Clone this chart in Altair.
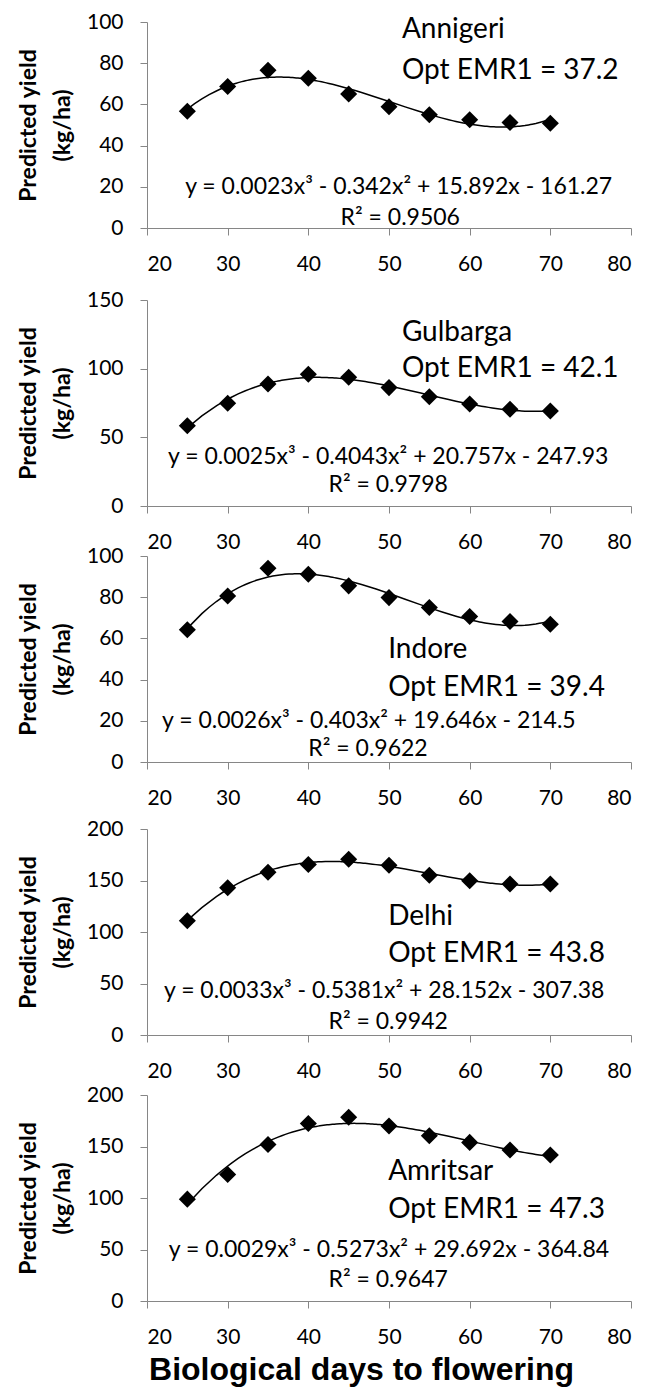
import altair as alt
import pandas as pd

# ---------------- data ----------------
days = [25, 30, 35, 40, 45, 50, 55, 60, 65, 70]

stations = ["Annigeri", "Gulbarga", "Indore", "Delhi", "Amritsar"]
opt_labels = ["Opt EMR1 = 37.2", "Opt EMR1 = 42.1", "Opt EMR1 = 39.4",
              "Opt EMR1 = 43.8", "Opt EMR1 = 47.3"]
equations = [
    "y = 0.0023x\u00b3 - 0.342x\u00b2 + 15.892x - 161.27",
    "y = 0.0025x\u00b3 - 0.4043x\u00b2 + 20.757x - 247.93",
    "y = 0.0026x\u00b3 - 0.403x\u00b2 + 19.646x - 214.5",
    "y = 0.0033x\u00b3 - 0.5381x\u00b2 + 28.152x - 307.38",
    "y = 0.0029x\u00b3 - 0.5273x\u00b2 + 29.692x - 364.84",
]
r2_labels = ["R\u00b2 = 0.9506", "R\u00b2 = 0.9798", "R\u00b2 = 0.9622",
             "R\u00b2 = 0.9942", "R\u00b2 = 0.9647"]

annigeri = [56.7, 68.7, 76.6, 72.7, 65.0, 58.9, 55.0, 52.6, 51.2, 50.9]
gulbarga = [58.5, 74.8, 88.8, 95.9, 93.7, 86.2, 79.6, 74.3, 70.4, 69.2]
indore = [64.2, 80.6, 94.0, 91.1, 85.5, 79.8, 75.0, 70.6, 68.2, 66.9]
delhi = [111.0, 142.9, 158.0, 165.5, 170.6, 164.8, 155.0, 149.7, 146.5, 146.5]
amritsar = [98.9, 122.9, 152.0, 172.4, 178.3, 169.9, 160.4, 154.0, 146.5, 141.7]
series = [annigeri, gulbarga, indore, delhi, amritsar]

x_ticks = [20, 30, 40, 50, 60, 70, 80]
y_ticks = [
    [0, 20, 40, 60, 80, 100],
    [0, 50, 100, 150],
    [0, 20, 40, 60, 80, 100],
    [0, 50, 100, 150, 200],
    [0, 50, 100, 150, 200],
]

# ---------------- annotation placement (data coordinates) ----------------
name_pos = [(51.6, 96.3), (51.6, 125.7), (49.9, 54.5), (49.9, 114.8), (49.9, 125.4)]
opt_pos = [(51.6, 76.0), (51.6, 99.5), (49.9, 36.0), (49.9, 78.4), (49.9, 88.8)]
eq_pos = [(51.2, 20.1), (49.9, 36.0), (47.5, 19.8), (49.4, 43.2), (50.0, 49.9)]
r2_pos = [(51.4, 4.8), (49.9, 15.0), (47.4, 6.5), (49.9, 12.6), (49.9, 20.1)]

# ---------------- layout / style ----------------
FONT = "Lato"
PLOT_W = 484
PLOT_H = 206
TOP_GAP = [0, 22, 0, 17, 10]   # empty band above each plot area
SPACING = 50


def make_panel(i, last):
    df = pd.DataFrame({"x": days, "y": series[i]})
    ymax = y_ticks[i][-1]
    gap = TOP_GAP[i]

    x_axis_kwargs = dict(values=x_ticks, labelPadding=18, tickSize=7)
    if last:
        x_axis_kwargs.update(
            title="Biological days to flowering",
            titleFont="Liberation Sans", titleFontSize=32, titleFontWeight="bold",
            titleColor="black", titleBaseline="alphabetic", titleX=214, titleY=78,
        )
    else:
        x_axis_kwargs.update(title=None)

    xenc = alt.X("x:Q", scale=alt.Scale(domain=[20, 80], nice=False, zero=False),
                 axis=alt.Axis(**x_axis_kwargs))
    yenc = alt.Y("y:Q",
                 scale=alt.Scale(domain=[0, ymax], nice=False,
                                 range=[PLOT_H + gap, gap]),
                 axis=alt.Axis(values=y_ticks[i], title=["Predicted yield", "(kg/ha)"],
                               titleFont=FONT, titleFontSize=23, titleFontWeight="bold",
                               titleLineHeight=34, titleColor="black", titlePadding=12,
                               labelPadding=17, tickSize=7))

    base = alt.Chart(df)
    trend = base.transform_regression(
        "x", "y", method="poly", order=3, extent=[25, 70]
    ).mark_line(color="black", strokeWidth=1.5).encode(x=xenc, y=yenc)
    points = base.mark_point(shape="diamond", filled=True, size=290,
                             color="black", opacity=1).encode(x=xenc, y=yenc)

    names = pd.DataFrame({
        "x": [name_pos[i][0], opt_pos[i][0]],
        "y": [name_pos[i][1], opt_pos[i][1]],
        "t": [stations[i], opt_labels[i]],
    })
    eqs = pd.DataFrame({
        "x": [eq_pos[i][0], r2_pos[i][0]],
        "y": [eq_pos[i][1], r2_pos[i][1]],
        "t": [equations[i], r2_labels[i]],
    })
    name_text = alt.Chart(names).mark_text(
        align="left", baseline="middle", font=FONT, fontSize=28, color="black"
    ).encode(x=xenc, y=yenc, text="t:N")
    eq_text = alt.Chart(eqs).mark_text(
        align="center", baseline="middle", font=FONT, fontSize=23, color="black"
    ).encode(x=xenc, y=yenc, text="t:N")

    return alt.layer(trend, points, name_text, eq_text).properties(
        width=PLOT_W, height=PLOT_H + gap
    )


panels = [make_panel(i, i == len(series) - 1) for i in range(len(series))]

chart = alt.vconcat(*panels, spacing=SPACING, bounds="flush").properties(
    padding={"left": 9, "top": 3, "right": 5, "bottom": 2},
    background="white",
).configure_view(strokeWidth=0).configure_axis(
    grid=False, labelFont=FONT, labelFontSize=21, labelColor="black",
    domainColor="#868686", tickColor="#868686", domainWidth=1, tickWidth=1,
)

chart.save("out.html", embed_options={"renderer": "svg", "actions": False})
